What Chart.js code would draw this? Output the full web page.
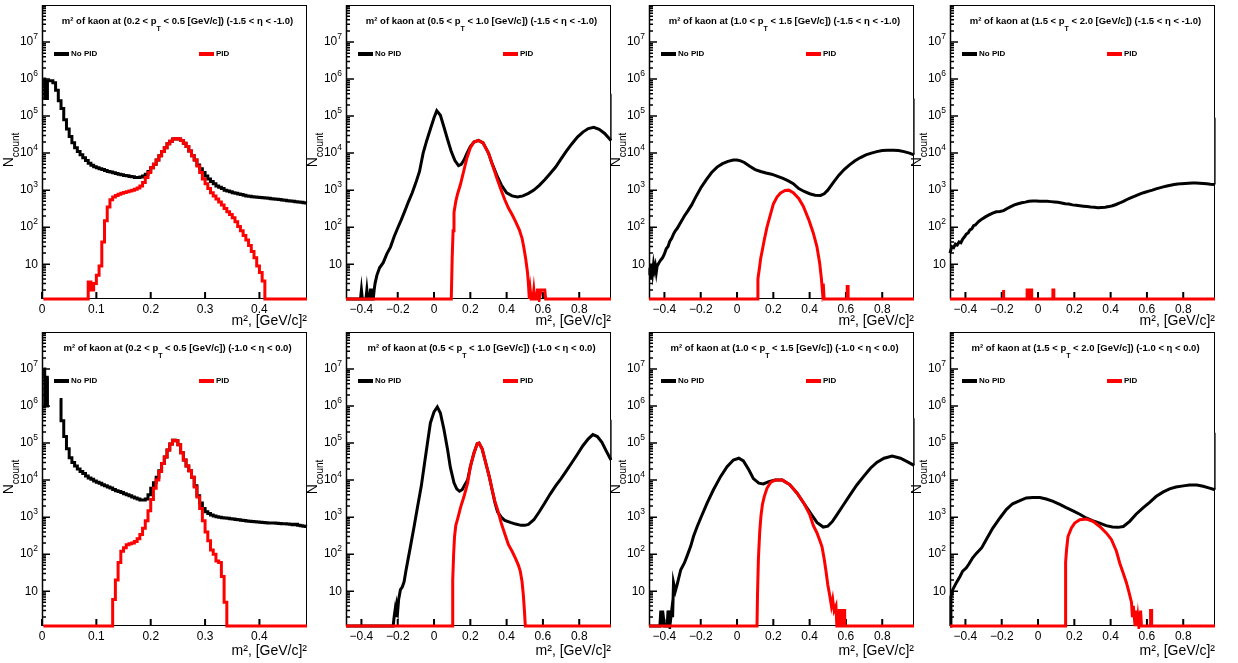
<!DOCTYPE html>
<html lang="en">
<head>
<meta charset="utf-8">
<title>m² of kaon – No PID vs PID</title>
<script src="https://cdn.jsdelivr.net/npm/chart.js@4.4.1/dist/chart.umd.min.js"></script>
<style>
  html, body { margin: 0; padding: 0; background: #fff; }
  #sheet { position: relative; width: 1238px; height: 663px; overflow: hidden; background: #fff; }
  #sheet canvas { position: absolute; }
</style>
</head>
<body>
<div id="sheet"></div>
<script>
/* ===== DATA ===== */

// panel titles
const ptBins = [['0.2', '0.5'], ['0.5', '1.0'], ['1.0', '1.5'], ['1.5', '2.0']];
const etaBins = [['-1.5', '-1.0'], ['-1.0', '0.0']];
const seriesNames = ['No PID', 'PID'];

// axis ticks
const yTickValues = [10, 1e2, 1e3, 1e4, 1e5, 1e6, 1e7];
const yTickExps = ['', '2', '3', '4', '5', '6', '7'];
const xTicksLow = [0, 0.1, 0.2, 0.3, 0.4];
const xLabelsLow = ['0', '0.1', '0.2', '0.3', '0.4'];
const xTicksWide = [-0.4, -0.2, 0, 0.2, 0.4, 0.6, 0.8];
const xLabelsWide = ['\u22120.4', '\u22120.2', '0', '0.2', '0.4', '0.6', '0.8'];

// low pT panels: bin contents, bins of 0.005 starting at 0
const binWidth = 0.005;
const noPid_1 = [
  1e6, 3e5, 9e5, 9e5, 8e5, 5e5, 2.6e5, 1.6e5, 8e4, 4.5e4,
  2.8e4, 1.9e4, 1.4e4, 1.1e4, 9e3, 7.5e3, 6.3e3, 5.3e3, 4.7e3, 4.3e3,
  4e3, 3.8e3, 3.6e3, 3.4e3, 3.2e3, 3.1e3, 2.95e3, 2.8e3, 2.7e3, 2.6e3,
  2.5e3, 2.45e3, 2.35e3, 2.3e3, 2.2e3, 2.2e3, 2.25e3, 2.4e3, 2.7e3, 3.2e3,
  4e3, 5e3, 6.5e3, 8.5e3, 1.1e4, 1.4e4, 1.8e4, 2.1e4, 2.4e4, 2.5e4,
  2.4e4, 2.2e4, 1.85e4, 1.5e4, 1.15e4, 8.5e3, 6.5e3, 4.8e3, 3.8e3, 3e3,
  2.4e3, 2e3, 1.7e3, 1.5e3, 1.3e3, 1.2e3, 1.1e3, 1e3, 950, 900,
  850, 820, 790, 760, 730, 700, 680, 660, 650, 640,
  630, 620, 610, 600, 590, 580, 570, 560, 540, 530,
  520, 510, 500, 490, 480, 470, 460, 450];
const pid_1 = [
  0, 0, 0, 0, 0, 0, 0, 0, 0, 0,
  0, 0, 0, 0, 0, 0, 0, 3.3, 2, 3,
  5, 9, 40, 150, 350, 550, 650, 720, 780, 830,
  870, 900, 950, 1000, 1050, 1150, 1300, 1600, 2200, 3000,
  4000, 5000, 6500, 8500, 1.1e4, 1.4e4, 1.8e4, 2.1e4, 2.4e4, 2.5e4,
  2.4e4, 2.2e4, 1.85e4, 1.5e4, 1.15e4, 8.5e3, 6.5e3, 4.5e3, 3e3, 2e3,
  1500, 1100, 850, 700, 580, 480, 400, 320, 260, 220,
  180, 140, 105, 80, 60, 45, 32, 22, 15, 9,
  6, 3.5, 0, 0, 0, 0, 0, 0, 0, 0,
  0, 0, 0, 0, 0, 0, 0, 0];
const noPid_5 = [
  1e7, 1e6, 6e6, null, null, null, 1.5e6, 4e5, 1.5e5, 7e4,
  4e4, 3e4, 2.4e4, 2e4, 1.7e4, 1.5e4, 1.3e4, 1.15e4, 1.05e4, 9.5e3,
  8.8e3, 8.2e3, 7.5e3, 7e3, 6.5e3, 6.1e3, 5.6e3, 5.2e3, 4.9e3, 4.6e3,
  4.3e3, 4e3, 3.8e3, 3.5e3, 3.3e3, 3.1e3, 2.9e3, 2.9e3, 3.1e3, 4e3,
  6e3, 8.5e3, 1.2e4, 1.8e4, 2.8e4, 4.2e4, 6.5e4, 9.5e4, 1.2e5, 1.15e5,
  9e4, 5.5e4, 3.5e4, 2.4e4, 1.8e4, 1.2e4, 7e3, 3.8e3, 2.4e3, 1.7e3,
  1.4e3, 1.25e3, 1.15e3, 1.08e3, 1.03e3, 1e3, 970, 950, 930, 910,
  890, 870, 850, 830, 810, 790, 770, 760, 750, 740,
  730, 720, 710, 700, 690, 690, 680, 670, 660, 660,
  650, 640, 620, 640, 600, 590, 570, 560];
const pid_5 = [
  0, 0, 0, 0, 0, 0, 0, 0, 0, 0,
  0, 0, 0, 0, 0, 0, 0, 0, 0, 0,
  0, 0, 0, 0, 0, 0, 6, 20, 60, 120,
  150, 180, 190, 200, 220, 260, 340, 500, 800, 1500,
  3000, 6000, 1e4, 1.7e4, 2.8e4, 4.2e4, 6.5e4, 9.5e4, 1.2e5, 1.15e5,
  9e4, 5.5e4, 3.5e4, 2.4e4, 1.8e4, 1.2e4, 6.5e3, 3.5e3, 1.7e3, 800,
  400, 230, 130, 100, 65, 60, 25, 5, 0, 0,
  0, 0, 0, 0, 0, 0, 0, 0, 0, 0,
  0, 0, 0, 0, 0, 0, 0, 0, 0, 0,
  0, 0, 0, 0, 0, 0, 0, 0];

// higher pT panels: m2 sample points and counts
const noPidX_2 = [-0.485, -0.405, -0.4, -0.395, -0.375, -0.37, -0.365, -0.355, -0.35, -0.345, -0.34, -0.335, -0.33, -0.325, -0.315, -0.3, -0.28, -0.26, -0.24, -0.22, -0.2, -0.18, -0.16, -0.14, -0.12, -0.1, -0.08, -0.06, -0.04, -0.02, 0, 0.015, 0.035, 0.055, 0.075, 0.095, 0.115, 0.135, 0.15, 0.165, 0.18, 0.2, 0.22, 0.245, 0.27, 0.3, 0.32, 0.345, 0.37, 0.4, 0.43, 0.46, 0.49, 0.52, 0.55, 0.58, 0.61, 0.64, 0.67, 0.7, 0.73, 0.76, 0.79, 0.82, 0.85, 0.88, 0.91, 0.94, 0.975];
const noPidY_2 = [0, 0, 2, 0, 0, 2, 0, 0, 2, 2, 0, 0, 2, 3, 5, 8, 11, 19, 29, 55, 95, 160, 280, 500, 850, 1600, 3200, 1e4, 2.2e4, 4.5e4, 9e4, 1.4e5, 1.05e5, 5e4, 2.3e4, 1.1e4, 6300, 4600, 5000, 6500, 9500, 1.5e4, 2e4, 2.2e4, 1.9e4, 1e4, 5200, 2600, 1400, 850, 700, 650, 700, 820, 1000, 1350, 1900, 2800, 4200, 7000, 1.15e4, 1.8e4, 2.7e4, 3.7e4, 4.6e4, 5e4, 4.4e4, 3.4e4, 2.2e4];
const pidX_2 = [-0.485, 0.095, 0.1, 0.105, 0.11, 0.12, 0.13, 0.145, 0.165, 0.18, 0.2, 0.22, 0.245, 0.27, 0.3, 0.32, 0.345, 0.37, 0.39, 0.41, 0.43, 0.45, 0.47, 0.485, 0.495, 0.505, 0.515, 0.52, 0.525, 0.53, 0.535, 0.545, 0.55, 0.555, 0.565, 0.57, 0.575, 0.58, 0.59, 0.6, 0.61, 0.615, 0.975];
const pidY_2 = [0, 0, 15, 80, 250, 500, 800, 1400, 3500, 7000, 1.4e4, 2e4, 2.2e4, 1.9e4, 1e4, 5200, 2200, 1000, 550, 330, 220, 140, 85, 50, 28, 14, 6, 3, 0, 2, 0, 0, 2, 0, 0, 2, 2, 0, 2, 2, 2, 0, 0];

const noPidX_3 = [-0.485, -0.48, -0.475, -0.47, -0.465, -0.46, -0.455, -0.45, -0.445, -0.44, -0.43, -0.42, -0.41, -0.4, -0.39, -0.38, -0.37, -0.36, -0.35, -0.34, -0.33, -0.31, -0.29, -0.27, -0.25, -0.23, -0.2, -0.17, -0.14, -0.11, -0.08, -0.05, -0.02, 0, 0.02, 0.04, 0.07, 0.1, 0.13, 0.16, 0.19, 0.22, 0.25, 0.28, 0.31, 0.34, 0.37, 0.4, 0.43, 0.46, 0.48, 0.5, 0.53, 0.56, 0.59, 0.62, 0.65, 0.68, 0.71, 0.74, 0.77, 0.8, 0.83, 0.86, 0.89, 0.92, 0.95, 0.975];
const noPidY_3 = [5, 8, 4, 10, 6, 10, 7, 9, 6, 9, 11, 13, 15, 19, 26, 30, 42, 50, 65, 80, 92, 135, 200, 280, 400, 620, 1150, 1900, 3000, 4200, 5200, 6000, 6500, 6500, 6200, 5600, 4400, 3600, 3200, 2900, 2700, 2400, 2100, 1800, 1500, 1100, 920, 800, 730, 720, 800, 1000, 1600, 2500, 3600, 4800, 6200, 7600, 9000, 1e4, 1.1e4, 1.17e4, 1.2e4, 1.2e4, 1.18e4, 1.1e4, 1e4, 9000];
const pidX_3 = [-0.485, 0.113, 0.115, 0.12, 0.125, 0.13, 0.14, 0.15, 0.165, 0.185, 0.2, 0.22, 0.24, 0.265, 0.285, 0.31, 0.34, 0.365, 0.395, 0.42, 0.44, 0.455, 0.465, 0.47, 0.475, 0.48, 0.607, 0.607, 0.612, 0.612, 0.975];
const pidY_3 = [0, 0, 4, 6, 9, 14, 25, 45, 100, 230, 420, 650, 840, 980, 1000, 850, 600, 370, 160, 70, 30, 11, 4, 2, 3, 0, 0, 2.5, 2.5, 0, 0];

const noPidX_4 = [-0.485, -0.475, -0.465, -0.455, -0.445, -0.435, -0.425, -0.415, -0.405, -0.395, -0.385, -0.375, -0.365, -0.355, -0.345, -0.335, -0.325, -0.31, -0.29, -0.27, -0.25, -0.23, -0.21, -0.19, -0.17, -0.15, -0.13, -0.11, -0.09, -0.07, -0.05, -0.03, -0.01, 0.01, 0.03, 0.05, 0.07, 0.09, 0.11, 0.13, 0.15, 0.17, 0.19, 0.21, 0.23, 0.25, 0.27, 0.29, 0.31, 0.33, 0.35, 0.37, 0.39, 0.41, 0.43, 0.45, 0.47, 0.49, 0.51, 0.53, 0.55, 0.57, 0.59, 0.61, 0.63, 0.65, 0.67, 0.69, 0.71, 0.73, 0.75, 0.77, 0.79, 0.81, 0.83, 0.85, 0.87, 0.89, 0.91, 0.93, 0.95, 0.975];
const noPidY_4 = [20, 30, 28, 35, 33, 40, 38, 48, 55, 65, 70, 85, 90, 110, 115, 130, 145, 165, 190, 215, 240, 260, 265, 280, 320, 360, 400, 430, 455, 475, 500, 510, 510, 505, 500, 500, 490, 480, 470, 450, 430, 420, 400, 390, 380, 370, 360, 350, 345, 335, 340, 345, 360, 380, 410, 450, 500, 560, 620, 680, 750, 820, 880, 940, 1000, 1080, 1150, 1230, 1300, 1360, 1420, 1460, 1500, 1520, 1540, 1550, 1550, 1540, 1520, 1490, 1450, 1420];
const pidX_4 = [-0.485, -0.193, -0.193, -0.188, -0.188, -0.06, -0.06, -0.055, -0.055, -0.04, -0.04, -0.035, -0.035, 0.082, 0.082, 0.087, 0.087, 0.975];
const pidY_4 = [0, 0, 2, 2, 0, 0, 2, 2, 0, 0, 2, 2, 0, 0, 2, 2, 0, 0];

const noPidX_6 = [-0.485, -0.225, -0.22, -0.215, -0.21, -0.205, -0.2, -0.195, -0.185, -0.175, -0.165, -0.155, -0.145, -0.13, -0.11, -0.09, -0.07, -0.055, -0.035, -0.02, 0, 0.018, 0.035, 0.055, 0.075, 0.09, 0.11, 0.125, 0.14, 0.155, 0.17, 0.185, 0.2, 0.22, 0.238, 0.248, 0.265, 0.285, 0.305, 0.32, 0.335, 0.35, 0.37, 0.39, 0.42, 0.45, 0.48, 0.5, 0.52, 0.55, 0.58, 0.61, 0.64, 0.67, 0.7, 0.73, 0.76, 0.79, 0.82, 0.85, 0.875, 0.9, 0.925, 0.95, 0.975];
const noPidY_6 = [0, 0, 2, 3, 2, 4, 3, 6, 11, 13, 18, 35, 65, 160, 550, 2000, 7000, 2.3e4, 1.1e5, 3.5e5, 7e5, 9.5e5, 6.5e5, 2.3e5, 6.5e4, 2.2e4, 8500, 5800, 5000, 5500, 7500, 1e4, 2.3e4, 5.4e4, 9.6e4, 1e5, 7e4, 2.9e4, 1.2e4, 5500, 2500, 1400, 1000, 820, 720, 650, 600, 600, 640, 850, 1400, 2400, 4200, 7000, 1.1e4, 1.8e4, 3e4, 5e4, 8.5e4, 1.3e5, 1.7e5, 1.5e5, 1.05e5, 6e4, 3.5e4];
const pidX_6 = [-0.485, 0.1, 0.103, 0.108, 0.113, 0.12, 0.13, 0.147, 0.165, 0.185, 0.2, 0.22, 0.238, 0.248, 0.265, 0.285, 0.305, 0.32, 0.335, 0.35, 0.37, 0.39, 0.41, 0.43, 0.45, 0.465, 0.475, 0.485, 0.492, 0.498, 0.503, 0.975];
const pidY_6 = [0, 0, 20, 100, 300, 600, 900, 1900, 3600, 8300, 2.3e4, 5.4e4, 9.6e4, 1e5, 7e4, 2.9e4, 1.2e4, 5500, 2700, 1600, 700, 350, 180, 120, 75, 50, 35, 18, 8, 3, 0, 0];

const noPidX_7 = [-0.485, -0.425, -0.42, -0.415, -0.41, -0.4, -0.385, -0.38, -0.375, -0.37, -0.36, -0.355, -0.35, -0.34, -0.33, -0.31, -0.29, -0.275, -0.255, -0.24, -0.22, -0.2, -0.165, -0.13, -0.09, -0.055, -0.02, 0.01, 0.035, 0.065, 0.09, 0.12, 0.145, 0.175, 0.21, 0.25, 0.29, 0.33, 0.37, 0.4, 0.44, 0.475, 0.5, 0.525, 0.55, 0.585, 0.62, 0.66, 0.7, 0.735, 0.77, 0.81, 0.855, 0.9, 0.94, 0.975];
const noPidY_7 = [0, 0, 3, 0, 3, 0, 0, 3, 2, 0, 3, 2, 17, 10, 15, 38, 58, 90, 165, 300, 550, 950, 2400, 5500, 1.26e4, 2.3e4, 3.5e4, 3.9e4, 3.3e4, 1.9e4, 1.1e4, 8300, 7900, 9100, 1e4, 1e4, 7600, 4500, 2300, 1400, 720, 540, 570, 760, 1150, 2100, 3800, 7400, 1.3e4, 2.1e4, 3e4, 3.9e4, 4.5e4, 3.9e4, 3.1e4, 2.5e4];
const pidX_7 = [-0.485, 0.11, 0.113, 0.118, 0.125, 0.132, 0.14, 0.15, 0.165, 0.185, 0.21, 0.25, 0.29, 0.33, 0.37, 0.4, 0.42, 0.44, 0.455, 0.468, 0.48, 0.49, 0.5, 0.51, 0.52, 0.527, 0.535, 0.545, 0.55, 0.563, 0.563, 0.568, 0.568, 0.578, 0.578, 0.593, 0.593, 0.975];
const pidY_7 = [0, 0, 9, 80, 400, 1100, 2200, 3600, 6000, 8700, 1e4, 1e4, 7600, 4500, 2300, 1200, 600, 380, 240, 160, 75, 35, 15, 8, 4, 6, 3, 4, 0, 0, 3, 3, 0, 0, 3, 3, 0, 0];

const noPidX_8 = [-0.485, -0.48, -0.47, -0.45, -0.43, -0.415, -0.395, -0.38, -0.36, -0.34, -0.31, -0.285, -0.25, -0.21, -0.175, -0.14, -0.1, -0.065, -0.03, 0.01, 0.045, 0.08, 0.12, 0.155, 0.19, 0.23, 0.265, 0.3, 0.34, 0.375, 0.41, 0.44, 0.47, 0.505, 0.54, 0.58, 0.615, 0.65, 0.69, 0.725, 0.76, 0.8, 0.835, 0.875, 0.91, 0.945, 0.975];
const noPidY_8 = [0, 7, 11, 17, 25, 35, 43, 55, 80, 105, 150, 250, 500, 950, 1600, 2300, 2800, 3300, 3400, 3400, 3100, 2700, 2200, 1800, 1500, 1200, 950, 800, 690, 590, 540, 530, 560, 770, 1200, 1800, 2500, 3600, 4800, 5800, 6500, 7000, 7400, 7400, 6800, 6100, 5500];
const pidX_8 = [-0.485, 0.15, 0.152, 0.157, 0.165, 0.184, 0.202, 0.23, 0.267, 0.303, 0.34, 0.377, 0.404, 0.432, 0.45, 0.469, 0.487, 0.502, 0.515, 0.52, 0.525, 0.53, 0.535, 0.54, 0.545, 0.55, 0.555, 0.565, 0.57, 0.62, 0.62, 0.626, 0.626, 0.975];
const pidY_8 = [0, 0, 60, 130, 300, 510, 690, 850, 890, 770, 560, 370, 250, 120, 58, 31, 17, 9, 5, 2, 4, 2, 0, 3, 0, 2, 0, 3, 0, 0, 3, 3, 0, 0];

// overflow line drawn on the right edge of the wide panels
const edgeTop = [null, 4e5, 3e5, 9e4, null, 4.3e5, 4.7e5, 1.9e5];

/* ===== LAYOUT ===== */
const FONT = "'Liberation Sans', Arial, Helvetica, sans-serif";
const frameLeft = [42, 346, 649, 950];
const frameTop = [5, 332];
const FRAME_W = 265, FRAME_H = 294, AXIS_W = 42, PAD_TOP = 5, PAD_RIGHT = 3;
const axisH = [34, 37];
const Y_MIN = 1.15, Y_MAX = 1e8;
const rangeLow = [0, 0.4875];
const rangeWide = [-0.485, 0.975];
const CLIP = { left: 2, top: 0, right: 2, bottom: 3 };

// empty bins sit on the lower edge of the log axis, as in ROOT
function floorY(v) {
  return v === 0 ? Y_MIN : v;
}
function pairs(xs, ys) {
  return xs.map((x, i) => ({ x: x, y: floorY(ys[i]) }));
}
function binned(ys) {
  return ys.map((y, i) => ({ x: binWidth * (i + 0.5), y: floorY(y) }));
}

const panels = [
  { noPid: binned(noPid_1), pid: binned(pid_1), low: true },
  { noPid: pairs(noPidX_2, noPidY_2), pid: pairs(pidX_2, pidY_2), low: false },
  { noPid: pairs(noPidX_3, noPidY_3), pid: pairs(pidX_3, pidY_3), low: false },
  { noPid: pairs(noPidX_4, noPidY_4), pid: pairs(pidX_4, pidY_4), low: false },
  { noPid: binned(noPid_5), pid: binned(pid_5), low: true },
  { noPid: pairs(noPidX_6, noPidY_6), pid: pairs(pidX_6, pidY_6), low: false },
  { noPid: pairs(noPidX_7, noPidY_7), pid: pairs(pidX_7, pidY_7), low: false },
  { noPid: pairs(noPidX_8, noPidY_8), pid: pairs(pidX_8, pidY_8), low: false }
];

// ROOT-like frame, inward ticks, labels, title and legend
function rootDecor(row, col, xt) {
  return {
    id: 'rootDecor',
    beforeDatasetsDraw(chart) {
      const { ctx, chartArea: a, scales: { x, y } } = chart;
      ctx.save();
      ctx.strokeStyle = '#000';
      ctx.lineWidth = 1;
      ctx.strokeRect(a.left + 0.5, a.top + 0.5, a.right - a.left - 1, a.bottom - a.top - 1);
      ctx.lineWidth = 1.5;
      ctx.beginPath();
      ctx.moveTo(a.left + 0.5, a.top);
      ctx.lineTo(a.left + 0.5, a.bottom);
      for (let d = 0; d < 8; d++) {
        for (let m = 1; m < 10; m++) {
          const v = m * Math.pow(10, d);
          if (v < y.min || v > y.max) continue;
          const py = y.getPixelForValue(v);
          ctx.moveTo(a.left, py);
          ctx.lineTo(a.left + (m === 1 ? 8 : 4), py);
        }
      }
      ctx.stroke();
      ctx.lineWidth = 2;
      ctx.beginPath();
      xt.forEach(v => {
        const px = x.getPixelForValue(v);
        ctx.moveTo(px, a.bottom);
        ctx.lineTo(px, a.bottom - 7);
      });
      ctx.stroke();
      ctx.restore();
    },
    afterDraw(chart) {
      const { ctx, chartArea: a, scales: { y } } = chart;
      ctx.save();
      ctx.fillStyle = '#000';

      // y tick labels: 10, 10^2 ... 10^7
      yTickValues.forEach((v, i) => {
        const py = y.getPixelForValue(v);
        const exp = yTickExps[i];
        ctx.font = '8.5px ' + FONT;
        const we = exp ? ctx.measureText(exp).width : 0;
        const xr = a.left - 4 - we;
        ctx.font = '12px ' + FONT;
        ctx.textAlign = 'right';
        ctx.textBaseline = 'middle';
        ctx.fillText('10', xr, py);
        if (exp) {
          ctx.font = '8.5px ' + FONT;
          ctx.textAlign = 'left';
          ctx.textBaseline = 'alphabetic';
          ctx.fillText(exp, xr, py - 3.5);
        }
      });

      // y axis title N_count
      ctx.save();
      ctx.translate(a.left - 29, (a.top + a.bottom) / 2 - 2);
      ctx.rotate(-Math.PI / 2);
      ctx.textAlign = 'left';
      ctx.textBaseline = 'alphabetic';
      ctx.font = '14px ' + FONT;
      const wN = ctx.measureText('N').width;
      ctx.font = '10px ' + FONT;
      const wC = ctx.measureText('count').width;
      const sx = -(wN + wC) / 2;
      ctx.font = '14px ' + FONT;
      ctx.fillText('N', sx, 0);
      ctx.font = '10px ' + FONT;
      ctx.fillText('count', sx + wN, 6);
      ctx.restore();

      // panel title with p_T subscript
      const pt = ptBins[col], eta = etaBins[row];
      const head = 'm\u00b2 of kaon at (' + pt[0] + ' < p';
      const tail = ' < ' + pt[1] + ' [GeV/c]) (' + eta[0] + ' < \u03b7 < ' + eta[1] + ')';
      const big = 'bold 9.5px ' + FONT, small = 'bold 7px ' + FONT;
      ctx.font = big;
      const wH = ctx.measureText(head).width;
      const wT = ctx.measureText(tail).width;
      ctx.font = small;
      const wS = ctx.measureText('T').width;
      let tx = (a.left + a.right) / 2 + 3 - (wH + wS + wT) / 2;
      const by = a.top + 18.5;
      ctx.textAlign = 'left';
      ctx.textBaseline = 'alphabetic';
      ctx.font = big;
      ctx.fillText(head, tx, by);
      tx += wH;
      ctx.font = small;
      ctx.fillText('T', tx, by + 7);
      tx += wS;
      ctx.font = big;
      ctx.fillText(tail, tx, by);

      // legend
      const ly = a.top + 49;
      ctx.lineWidth = 4;
      ctx.strokeStyle = '#000';
      ctx.beginPath();
      ctx.moveTo(a.left + 12, ly);
      ctx.lineTo(a.left + 27, ly);
      ctx.stroke();
      ctx.strokeStyle = '#ff0000';
      ctx.beginPath();
      ctx.moveTo(a.left + 157, ly);
      ctx.lineTo(a.left + 172, ly);
      ctx.stroke();
      ctx.font = 'bold 8px ' + FONT;
      ctx.textBaseline = 'middle';
      ctx.fillStyle = '#000';
      ctx.fillText(seriesNames[0], a.left + 29, ly);
      ctx.fillText(seriesNames[1], a.left + 174, ly);
      ctx.restore();
    }
  };
}

document.addEventListener('DOMContentLoaded', function() {
  Chart.defaults.font.family = FONT;
  Chart.defaults.color = '#000';
  const sheet = document.getElementById('sheet');

  panels.forEach((p, idx) => {
    const row = Math.floor(idx / 4), col = idx % 4;
    const xr = p.low ? rangeLow : rangeWide;
    const xt = p.low ? xTicksLow : xTicksWide;
    const xl = p.low ? xLabelsLow : xLabelsWide;

    const canvas = document.createElement('canvas');
    const w = AXIS_W + FRAME_W + PAD_RIGHT;
    const h = PAD_TOP + FRAME_H + axisH[row];
    canvas.width = w;
    canvas.height = h;
    canvas.style.width = w + 'px';
    canvas.style.height = h + 'px';
    canvas.style.left = (frameLeft[col] - AXIS_W) + 'px';
    canvas.style.top = (frameTop[row] - PAD_TOP) + 'px';
    sheet.appendChild(canvas);

    const line = {
      pointRadius: 0,
      borderWidth: 3,
      tension: 0,
      fill: false,
      spanGaps: false,
      stepped: p.low ? 'middle' : false,
      borderJoinStyle: 'miter',
      clip: CLIP
    };
    const datasets = [
      Object.assign({ label: seriesNames[1], data: p.pid, borderColor: '#ff0000' }, line),
      Object.assign({ label: seriesNames[0], data: p.noPid, borderColor: '#000000' }, line)
    ];
    if (edgeTop[idx]) {
      const last = p.noPid[p.noPid.length - 1].y;
      datasets.push({
        label: 'overflow',
        data: [{ x: xr[1], y: last }, { x: xr[1], y: edgeTop[idx] }],
        borderColor: '#333333',
        borderWidth: 1.5,
        pointRadius: 0,
        clip: CLIP
      });
    }

    new Chart(canvas, {
      type: 'line',
      data: { datasets: datasets },
      options: {
        responsive: false,
        animation: false,
        events: [],
        layout: { padding: { left: AXIS_W, right: PAD_RIGHT, top: PAD_TOP, bottom: 0 } },
        plugins: {
          legend: { display: false },
          tooltip: { enabled: false }
        },
        scales: {
          x: {
            type: 'linear',
            min: xr[0],
            max: xr[1],
            grid: { display: false, drawTicks: false },
            border: { display: false },
            afterBuildTicks: s => { s.ticks = xt.map(v => ({ value: v })); },
            afterFit: s => { s.height = axisH[row]; },
            ticks: {
              autoSkip: false,
              maxRotation: 0,
              padding: 3,
              color: '#000',
              font: { family: FONT, size: 12 },
              callback: (v, i) => xl[i]
            },
            title: {
              display: true,
              text: 'm\u00b2, [GeV/c]\u00b2',
              align: 'end',
              color: '#000',
              font: { family: FONT, size: 14 },
              padding: { top: 0, bottom: 3 }
            }
          },
          y: {
            type: 'logarithmic',
            min: Y_MIN,
            max: Y_MAX,
            display: false
          }
        }
      },
      plugins: [rootDecor(row, col, xt)]
    });
  });
});
</script>
</body>
</html>
